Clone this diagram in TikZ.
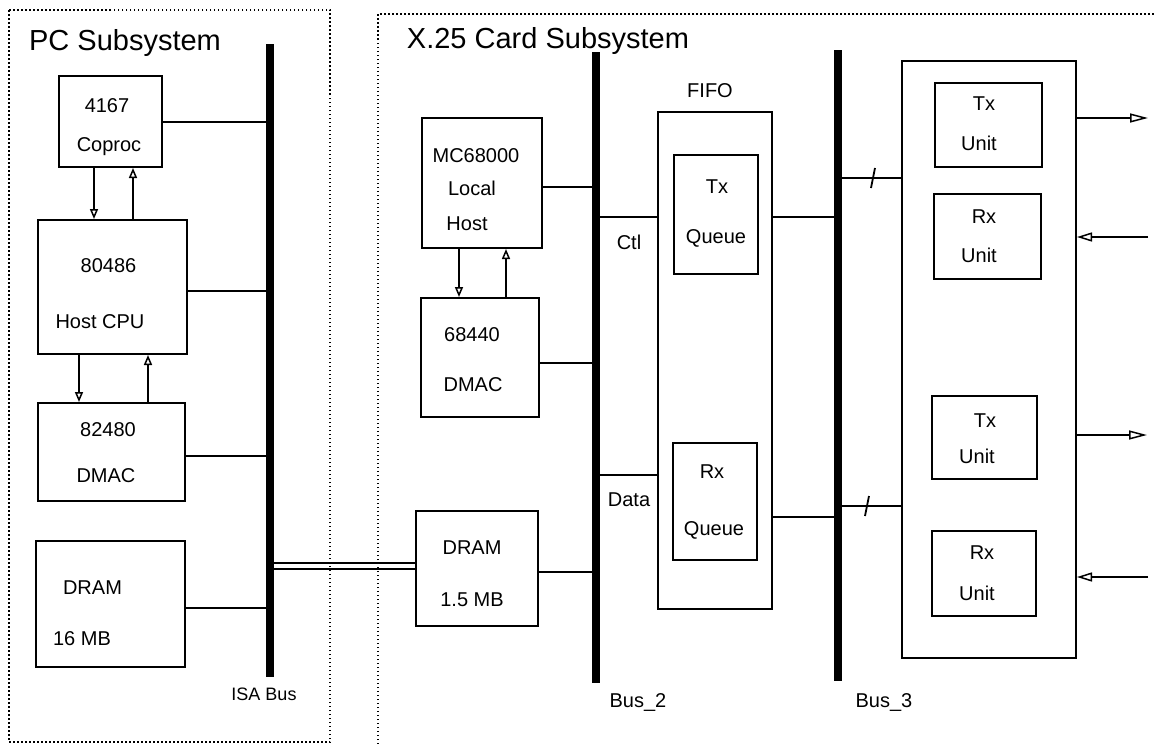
\documentclass[tikz,border=0pt]{standalone}
\usepackage{fontspec}
\setmainfont{Liberation Sans}
\usetikzlibrary{arrows.meta,calc}
\begin{document}
\begin{tikzpicture}[x=1pt,y=-1pt,
  frame/.style={line width=1.5pt,dash pattern=on 1.5pt off 2.5pt},
  blk/.style={draw,line width=2pt,rectangle,inner sep=0pt},
  bus/.style={fill=black,draw=none,rectangle,inner sep=0pt,minimum width=8pt},
  wire/.style={line width=1.8pt},
  lbl/.style={anchor=base,inner sep=0pt,font=\fontsize{20}{22}\selectfont},
  ttl/.style={anchor=base,inner sep=0pt,font=\fontsize{29}{32}\selectfont},
  vtip/.style={wire,-{Triangle[open,length=10pt,width=8pt,line width=1.5pt]}},
  htip/.style={wire,-{Triangle[open,length=18pt,width=9pt,line width=1.5pt]}},
  itip/.style={wire,-{Triangle[open,length=15pt,width=9pt,line width=1.5pt]}}
]
\useasboundingbox (0,0) rectangle (1154,744);
% frames
\draw[frame] (9,10) rectangle (330,742);
\draw[frame] (378,744) -- (378,14) -- (1154,14);
\node[ttl] (tpc) at (125,50) {PC Subsystem};
\node[ttl] (tx25) at (548,48) {X.25 Card Subsystem};
% buses
\node[bus,minimum height=633pt] (isa) at (270,360.5) {};
\node[bus,minimum height=631pt] (bus2) at (596,367.5) {};
\node[bus,minimum height=631pt] (bus3) at (838,365.5) {};
\node[lbl,font=\fontsize{18}{20}\selectfont] (lisa) at (264,700) {ISA Bus};
\node[lbl] (lb2) at (638,707) {Bus\_2};
\node[lbl] (lb3) at (884,707) {Bus\_3};
% PC boxes
\node[blk,minimum width=103pt,minimum height=91pt] (cop) at (110.5,121.5) {};
\node[blk,minimum width=149pt,minimum height=134pt] (cpu) at (112.5,287) {};
\node[blk,minimum width=147pt,minimum height=98pt] (dmac1) at (111.5,452) {};
\node[blk,minimum width=149pt,minimum height=126pt] (dram1) at (110.5,604) {};
\node[lbl] (t1) at (107,112) {4167};
\node[lbl] (t2) at (109,151) {Coproc};
\node[lbl] (t3) at (108.5,272) {80486};
\node[lbl] (t4) at (100,328) {Host CPU};
\node[lbl] (t5) at (108,436) {82480};
\node[lbl] (t6) at (106,482) {DMAC};
\node[lbl] (t7) at (92.5,594) {DRAM};
\node[lbl] (t8) at (82,645) {16 MB};
% X.25 boxes
\node[blk,minimum width=120pt,minimum height=130pt] (mc) at (482,183) {};
\node[blk,minimum width=118pt,minimum height=119pt] (dmac2) at (480,357.5) {};
\node[blk,minimum width=122pt,minimum height=115pt] (dram2) at (477,568.5) {};
\node[lbl] (t9) at (476,162) {MC68000};
\node[lbl] (t10) at (472,195) {Local};
\node[lbl] (t11) at (467,230) {Host};
\node[lbl] (t12) at (472,341) {68440};
\node[lbl] (t13) at (473,391) {DMAC};
\node[lbl] (t14) at (472,554) {DRAM};
\node[lbl] (t15) at (472,606) {1.5 MB};
% FIFO
\node[blk,minimum width=114pt,minimum height=497pt] (fifo) at (715,360.5) {};
\node[blk,minimum width=84pt,minimum height=119pt] (txq) at (716,214.5) {};
\node[blk,minimum width=84pt,minimum height=117pt] (rxq) at (715,501.5) {};
\node[lbl] (t16) at (710,97) {FIFO};
\node[lbl] (t17) at (717,193) {Tx};
\node[lbl] (t18) at (716,243) {Queue};
\node[lbl] (t19) at (712,478) {Rx};
\node[lbl] (t20) at (714,535) {Queue};
\node[lbl] (tctl) at (629,249) {Ctl};
\node[lbl] (tdata) at (629,506) {Data};
% line units
\node[blk,minimum width=174pt,minimum height=597pt] (big) at (989,359.5) {};
\node[blk,minimum width=107pt,minimum height=84pt] (tx1) at (988.5,125) {};
\node[blk,minimum width=107pt,minimum height=85pt] (rx1) at (987.5,236.5) {};
\node[blk,minimum width=105pt,minimum height=83pt] (tx2) at (984.5,437.5) {};
\node[blk,minimum width=104pt,minimum height=85pt] (rx2) at (984,573.5) {};
\node[lbl] (u1) at (984,110) {Tx};
\node[lbl] (u2) at (979,150) {Unit};
\node[lbl] (u3) at (984,223) {Rx};
\node[lbl] (u4) at (979,262) {Unit};
\node[lbl] (u5) at (985,427) {Tx};
\node[lbl] (u6) at (977,463) {Unit};
\node[lbl] (u7) at (982,559) {Rx};
\node[lbl] (u8) at (977,600) {Unit};
% connectors to ISA bus
\draw[wire] (cop.east |- 0,122) -- (isa.west |- 0,122);
\draw[wire] (cpu.east |- 0,291) -- (isa.west |- 0,291);
\draw[wire] (dmac1.east |- 0,456) -- (isa.west |- 0,456);
\draw[wire] (dram1.east |- 0,608) -- (isa.west |- 0,608);
\draw[wire] (isa.east |- 0,563) -- (dram2.west |- 0,563);
\draw[line width=2.4pt] (isa.east |- 0,569) -- (dram2.west |- 0,569);
% vertical arrows
\draw[vtip] (cop.south -| 94,0) -- (cpu.north -| 94,0);
\draw[vtip] (cpu.north -| 133,0) -- (cop.south -| 133,0);
\draw[vtip] (cpu.south -| 79,0) -- (dmac1.north -| 79,0);
\draw[vtip] (dmac1.north -| 148,0) -- (cpu.south -| 148,0);
\draw[vtip] (mc.south -| 459,0) -- (dmac2.north -| 459,0);
\draw[vtip] (dmac2.north -| 506,0) -- (mc.south -| 506,0);
% bus 2
\draw[wire] (mc.east |- 0,187) -- (bus2.west |- 0,187);
\draw[wire] (dmac2.east |- 0,363) -- (bus2.west |- 0,363);
\draw[wire] (dram2.east |- 0,572) -- (bus2.west |- 0,572);
\draw[wire] (bus2.east |- 0,217) -- (fifo.west |- 0,217);
\draw[wire] (bus2.east |- 0,475) -- (fifo.west |- 0,475);
% bus 3
\draw[wire] (fifo.east |- 0,217) -- (bus3.west |- 0,217);
\draw[wire] (fifo.east |- 0,517) -- (bus3.west |- 0,517);
\draw[wire] (bus3.east |- 0,178) -- (big.west |- 0,178);
\draw[wire] (bus3.east |- 0,506) -- (big.west |- 0,506);
\coordinate (s1) at (873,178);
\coordinate (s2) at (867,506);
\draw[wire] ($(s1)+(-2,10)$) -- ($(s1)+(2,-10)$);
\draw[wire] ($(s2)+(-2,10)$) -- ($(s2)+(2,-10)$);
% external lines
\coordinate (o1) at (1148,118);
\coordinate (i1) at (1148,237);
\coordinate (o2) at (1147,435);
\coordinate (i2) at (1148,577);
\draw[htip] (big.east |- o1) -- (o1);
\draw[itip] (i1) -- (big.east |- i1);
\draw[htip] (big.east |- o2) -- (o2);
\draw[itip] (i2) -- (big.east |- i2);
\end{tikzpicture}
\end{document}
